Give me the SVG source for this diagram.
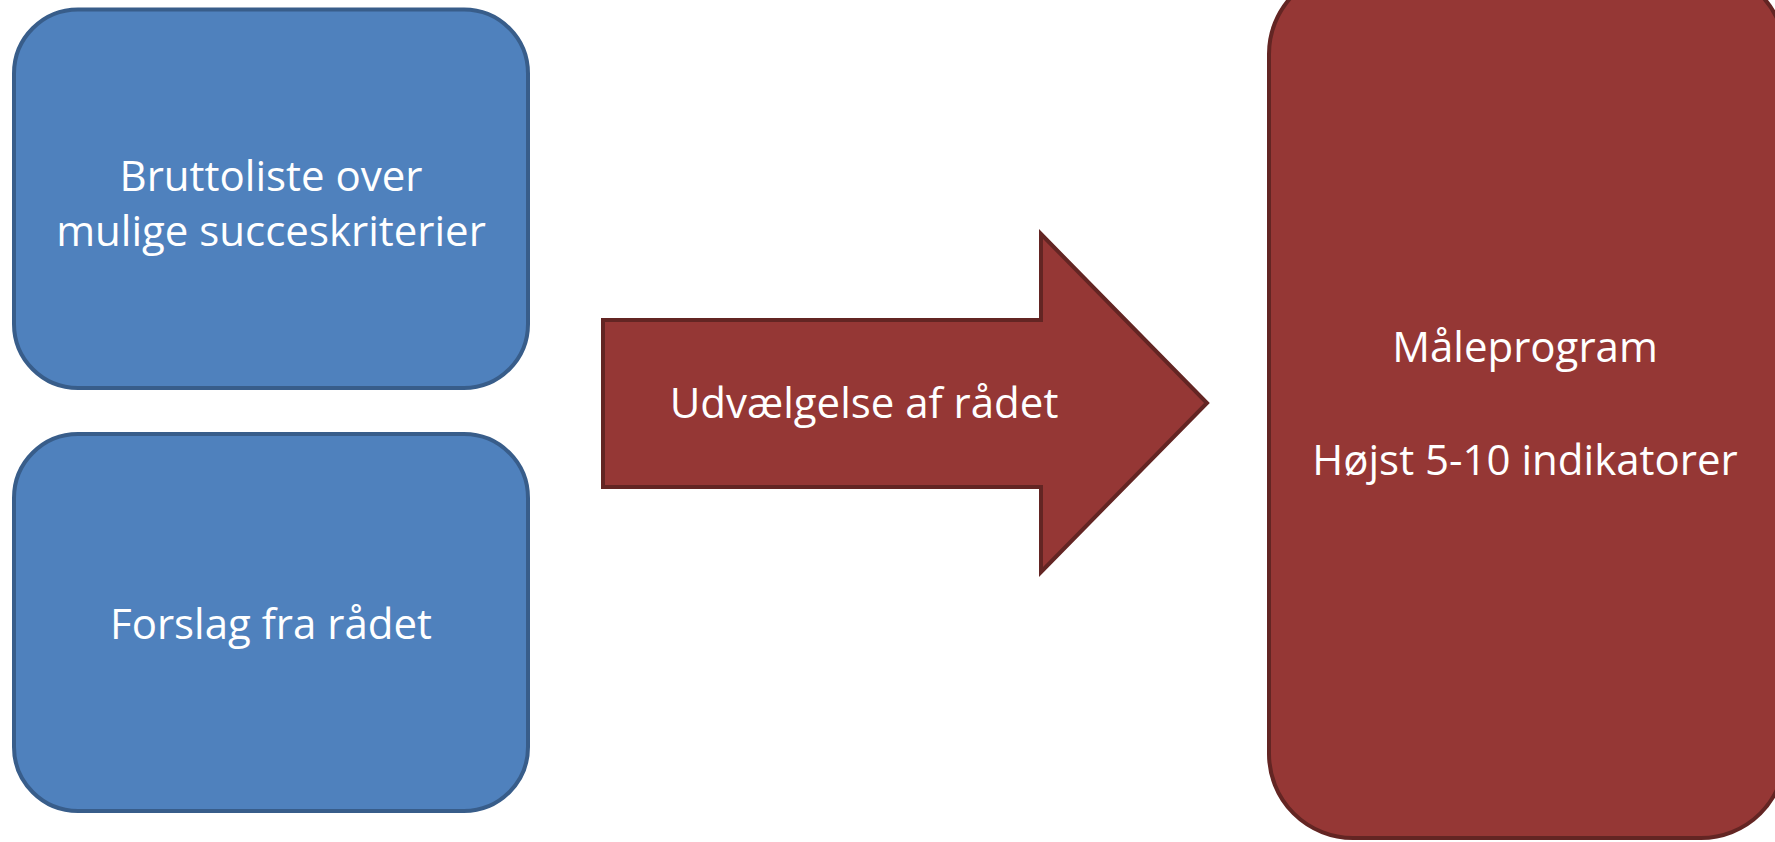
<svg xmlns="http://www.w3.org/2000/svg" width="1775" height="842" viewBox="0 0 1775 842">
<style>
.blue{fill:#4F81BD;stroke:#385D8A;stroke-width:4}
.red{fill:#953735;stroke:#632523;stroke-width:4}
.t{font-family:"Open Sans","Liberation Sans",sans-serif;font-size:42px;fill:#FFFFFF;text-anchor:middle}
</style>
<rect width="1775" height="842" fill="#FFFFFF"/>
<g id="node-bruttoliste">
<rect class="blue" x="14" y="9.5" width="514" height="378.5" rx="64" ry="64"/>
<text class="t" x="271" y="191">Bruttoliste over</text>
<text class="t" x="271" y="246">mulige succeskriterier</text>
</g>
<g id="node-forslag">
<rect class="blue" x="14" y="434" width="514" height="377" rx="64" ry="64"/>
<text class="t" x="271" y="639">Forslag fra rådet</text>
</g>
<g id="connectors">
<g id="arrow-udvaelgelse">
<path class="red" d="M603,320 L1041,320 L1041,234 L1207,403 L1041,572 L1041,487 L603,487 Z"/>
<text class="t" x="864" y="418">Udvælgelse af rådet</text>
</g>
</g>
<g id="node-maaleprogram">
<rect class="red" x="1269" y="-30" width="516" height="868" rx="84" ry="84"/>
<text class="t" x="1525" y="362">Måleprogram</text>
<text class="t" x="1525" y="475">Højst 5-10 indikatorer</text>
</g>
</svg>
